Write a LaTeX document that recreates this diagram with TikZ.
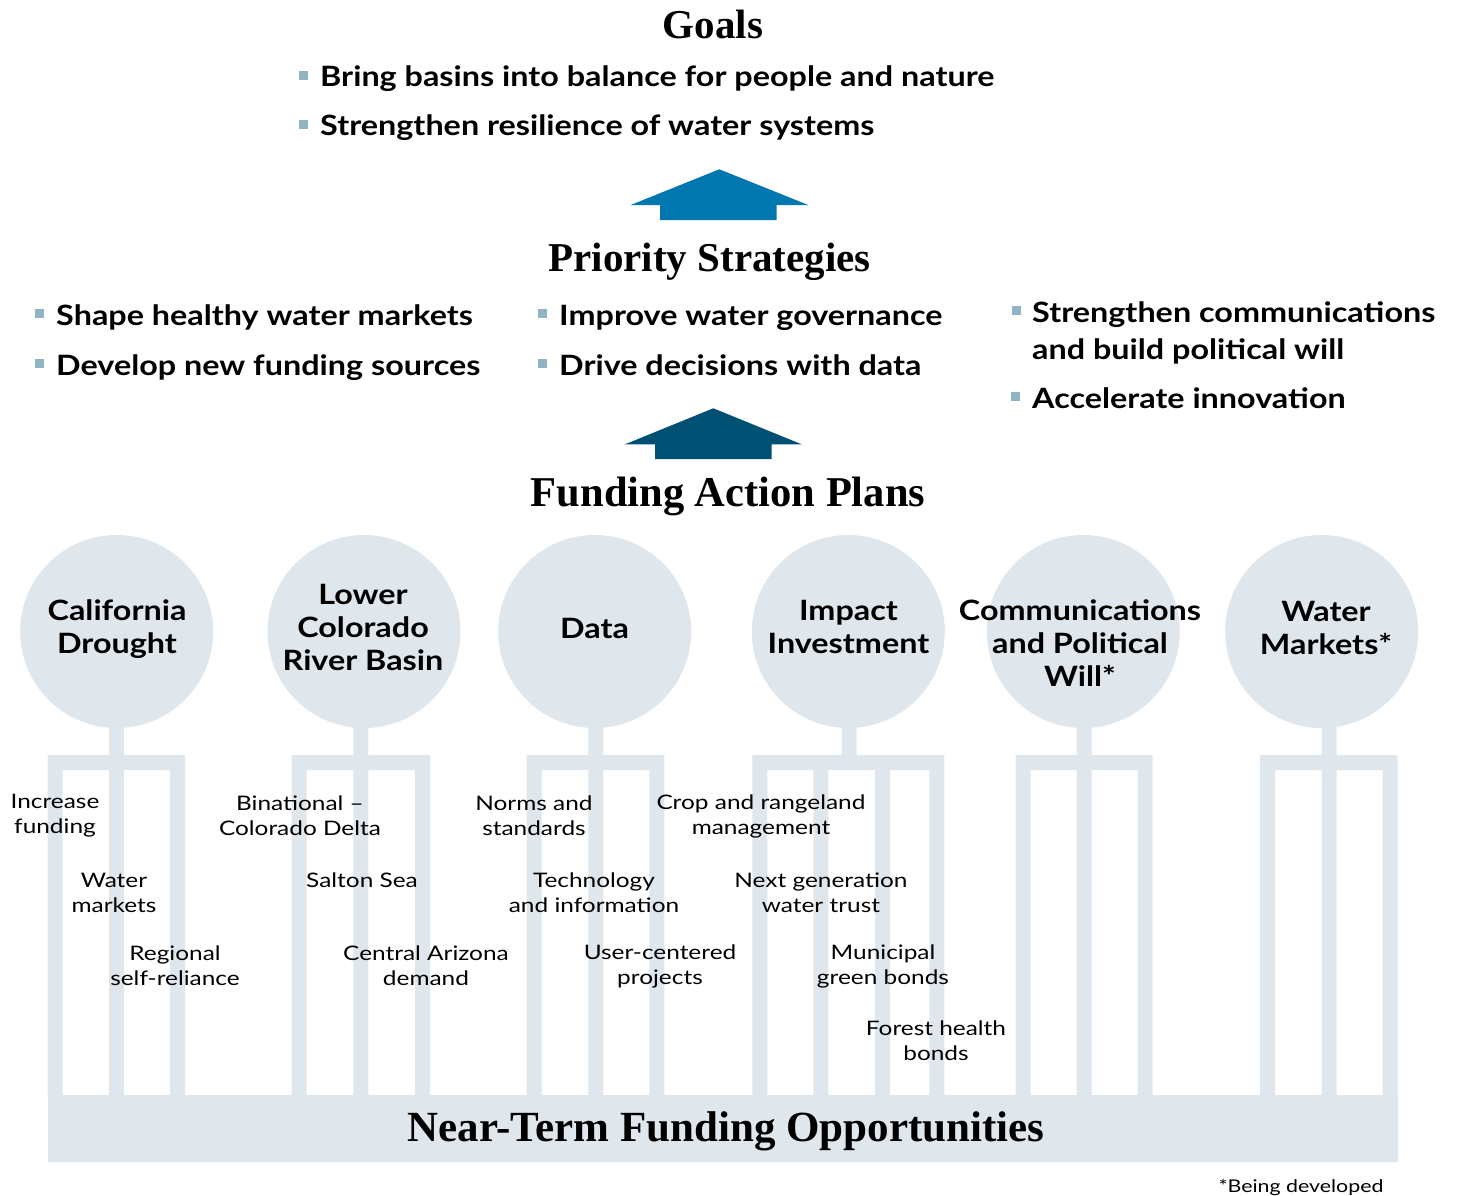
\documentclass[tikz,border=0pt]{standalone}
\usepackage{fontspec}
\setmainfont{Liberation Serif}
\newfontfamily\latoB{Lato}[FakeStretch=1.155]
\newfontfamily\latoR{Lato}[FakeStretch=1.22]
\usepackage{xcolor}
\usetikzlibrary{positioning}

\definecolor{pale}{HTML}{DFE6EC}
\definecolor{bulc}{HTML}{8FB5C5}
\definecolor{arrA}{HTML}{0077AE}
\definecolor{arrB}{HTML}{005073}

\begin{document}
\begin{tikzpicture}[x=1pt, y=-1pt,
  hdr/.style={font=\bfseries\fontsize{41}{41}\selectfont, anchor=base, inner sep=0},
  pt/.style={font=\latoB\bfseries\fontsize{28}{37}\selectfont, anchor=base west,
             inner sep=0, align=left},
  bsq/.style={rectangle, fill=bulc, minimum size=9pt, inner sep=0},
  bul/.style={bsq, yshift=11.5pt},
  circ/.style={circle, fill=pale, minimum size=193pt, inner sep=0},
  plan/.style={font=\latoB\bfseries\fontsize{28}{33}\selectfont, align=center, inner sep=0},
  opp/.style={font=\latoR\fontsize{20}{25}\selectfont, align=center, inner sep=0},
  bar/.style={fill=pale},
]
\useasboundingbox (0,0) rectangle (1457,1196);

%% Goals
\node[hdr] (goals) at (713,39) {Goals};
\node[pt] (goal1) at (320,87)  {Bring basins into balance for people and nature};
\node[pt] (goal2) at (320,136) {Strengthen resilience of water systems};
\node[bul, left=12pt of goal1.base west] {};
\node[bul, left=12pt of goal2.base west] {};

%% arrow up to goals
\fill[arrA] (719.3,169.3) -- (808.3,205) -- (776.7,205) -- (776.7,220) -- (660,220)
  -- (660,205) -- (630.7,205) -- cycle;

%% Priority Strategies
\node[hdr] (strat) at (709.5,271) {Priority Strategies};
\node[pt] (s1) at (56,325)  {Shape healthy water markets};
\node[pt] (s2) at (56,375)  {Develop new funding sources};
\node[pt] (s3) at (559,325) {Improve water governance};
\node[pt] (s4) at (559,375) {Drive decisions with data};
\node[pt, anchor=north west] (s5) at (1032,301) {Strengthen communications\\and build political will};
\node[pt] (s6) at (1032,408) {Accelerate innovation};
\node[bul, left=12pt of s1.base west] {};
\node[bul, left=12pt of s2.base west] {};
\node[bul, left=12pt of s3.base west] {};
\node[bul, left=12pt of s4.base west] {};
\node[bsq] at (1016.5,310.5) {};
\node[bul, left=12pt of s6.base west] {};

%% arrow up to strategies
\fill[arrB] (713.3,408.3) -- (801.7,444.3) -- (771.7,444.3) -- (771.7,459) -- (655,459)
  -- (655,444.3) -- (625,444.3) -- cycle;

%% Funding Action Plans
\node[hdr, font=\bfseries\fontsize{42.5}{42.5}\selectfont] (plans) at (728,506) {Funding Action Plans};

\node[circ] (cal)  at (116.7,631.5)  {};
\node[circ] (lcr)  at (364,631.5)    {};
\node[circ] (data) at (594.7,631.5)  {};
\node[circ] (imp)  at (848.3,631.5)  {};
\node[circ] (comm) at (1083.3,631.5) {};
\node[circ] (wmk)  at (1321.7,631.5) {};
\node[plan] at (117,629.5)  {California\\Drought};
\node[plan] at (363,627)    {Lower\\Colorado\\River Basin};
\node[plan] at (594.5,628)  {Data};
\node[plan] at (848.5,626.5){Impact\\Investment};
\node[plan] at (1080,643)   {Communications\\and Political\\Will*};
\node[plan] at (1326,627.5) {Water\\Markets*};

%% pillars under each plan
\fill[bar] (109.2,720) rectangle (124.2,1096)
  (47.7,755) rectangle (185,770) (47.7,755) rectangle (62.7,1096) (170,755) rectangle (185,1096);
\fill[bar] (353.3,720) rectangle (368.3,1096)
  (291.7,755) rectangle (430,770) (291.7,755) rectangle (306.7,1096) (415,755) rectangle (430,1096);
\fill[bar] (588.3,720) rectangle (603.3,1096)
  (526.7,755) rectangle (664.3,770) (526.7,755) rectangle (541.7,1096) (649.3,755) rectangle (664.3,1096);
\fill[bar] (841.7,720) rectangle (856.7,770)
  (752.3,755) rectangle (944.3,770) (752.3,755) rectangle (767.3,1096) (929.3,755) rectangle (944.3,1096)
  (813.3,755) rectangle (828.3,1096) (875,755) rectangle (890,1096);
\fill[bar] (1076.7,720) rectangle (1091.7,1096)
  (1015.7,755) rectangle (1152.7,770) (1015.7,755) rectangle (1030.7,1096) (1137.7,755) rectangle (1152.7,1096);
\fill[bar] (1321.7,720) rectangle (1336.7,1096)
  (1260,755) rectangle (1397.7,770) (1260,755) rectangle (1275,1096) (1382.7,755) rectangle (1397.7,1096);

%% opportunities
\node[opp] (o1)  at (55,816)   {Increase\\funding};
\node[opp] (o2)  at (114,893)  {Water\\markets};
\node[opp] (o3)  at (175,966)  {Regional\\self-reliance};
\node[opp] (o4)  at (300,816)  {Binational –\\Colorado Delta};
\node[opp] (o5)  at (362,880)  {Salton Sea};
\node[opp] (o6)  at (426,966)  {Central Arizona\\demand};
\node[opp] (o7)  at (534,816)  {Norms and\\standards};
\node[opp] (o8)  at (594,893)  {Technology\\and information};
\node[opp] (o9)  at (660,966)  {User-centered\\projects};
\node[opp] (o10) at (761,816)  {Crop and rangeland\\management};
\node[opp] (o11) at (821,893)  {Next generation\\water trust};
\node[opp] (o12) at (883,966)  {Municipal\\green bonds};
\node[opp] (o13) at (936,1041) {Forest health\\bonds};

%% Near-Term band
\fill[bar] (47.7,1095) rectangle (1397.7,1162);
\node[hdr, font=\bfseries\fontsize{43}{43}\selectfont] (near) at (726,1141) {Near-Term Funding Opportunities};

\node[opp, font=\latoR\fontsize{17.5}{20}\selectfont] (foot) at (1301,1187) {*Being developed};

\end{tikzpicture}
\end{document}
